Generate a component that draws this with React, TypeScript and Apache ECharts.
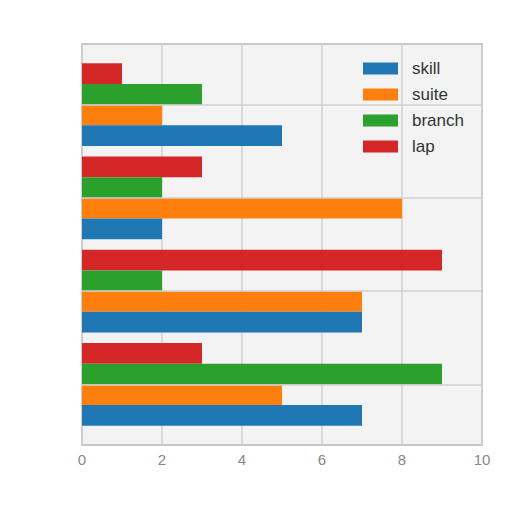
import React, { useEffect, useRef } from "react";
import * as echarts from "echarts";

const categories = ["G1", "G2", "G3", "G4"];
const seriesNames = ["skill", "suite", "branch", "lap"];
const skillValues = [5, 2, 7, 7];
const suiteValues = [2, 8, 7, 5];
const branchValues = [3, 2, 2, 9];
const lapValues = [1, 3, 9, 3];
const xTicks = [0, 2, 4, 6, 8, 10];
const colors = ["#1f77b4", "#ff7f0e", "#2ca02c", "#d62728"];

export default function App() {
  const ref = useRef<HTMLDivElement>(null);
  useEffect(() => {
    if (!ref.current) return;
    const chart = echarts.init(ref.current, null, { renderer: "svg" });
    const values = [skillValues, suiteValues, branchValues, lapValues];
    const font = "Liberation Sans, Arial, sans-serif";
    const order = [3, 2, 1, 0];
    chart.setOption({
      animation: false,
      grid: [
        { left: 82, top: 44, width: 400, height: 401, show: true, backgroundColor: "#f3f3f3", borderColor: "#c8c8c8", borderWidth: 2, z: 0 },
        { left: 82, top: 58, width: 400, height: 373 },
      ],
      xAxis: [
        {
          gridIndex: 0, type: "value", min: xTicks[0], max: xTicks[xTicks.length - 1], interval: 2,
          axisLine: { show: false }, axisTick: { show: false },
          axisLabel: { color: "#888", fontSize: 15, fontFamily: font, margin: 7 },
          splitLine: { show: true, lineStyle: { color: "#d0d0d0", width: 1.5 } },
        },
        {
          gridIndex: 1, type: "value", min: 0, max: 10, show: false,
          splitLine: { show: false },
        },
      ],
      yAxis: [
        { gridIndex: 0, type: "value", show: false, splitLine: { show: false } },
        { gridIndex: 1, type: "category", data: categories, inverse: true, show: false },
      ],
      legend: {
        data: seriesNames,
        orient: "vertical",
        left: 363, top: 60, padding: 0,
        itemWidth: 35, itemHeight: 12, itemGap: 9,
        textStyle: { fontSize: 17, lineHeight: 17, color: "#333", fontFamily: font, padding: [0, 0, 0, 9] },
        icon: "rect",
      },
      series: [
        {
          type: "line", xAxisIndex: 1, yAxisIndex: 1, data: [], z: 1, silent: true,
          markLine: {
            silent: true, symbol: "none", label: { show: false },
            lineStyle: { color: "#d0d0d0", width: 1.5, type: "solid" },
            data: categories.map((c) => ({ yAxis: c })),
          },
        },
        ...order.map((i) => ({
          name: seriesNames[i], type: "bar", xAxisIndex: 1, yAxisIndex: 1, data: values[i], z: 3,
          barGap: "0%", barCategoryGap: "11%",
          itemStyle: { color: colors[i] },
        })),
      ],
    });
    return () => chart.dispose();
  }, []);
  return <div ref={ref} style={{ width: 512, height: 512, position: "absolute", left: 0, top: 0 }} />;
}
